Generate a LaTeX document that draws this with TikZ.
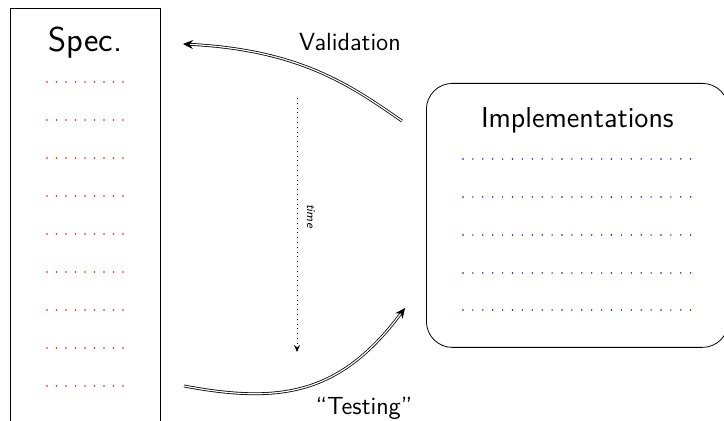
\documentclass[tikz,border=0pt]{standalone}
\usepackage{tikz}
\usetikzlibrary{positioning}
\usetikzlibrary{arrows.meta}

\tikzset{
  box/.style={draw,anchor=north west,inner sep=0pt},
  spec dots/.style={red,line width=0.8pt,line cap=round,dash pattern=on 0pt off 4.75pt},
  impl dots/.style={blue,line width=0.8pt,line cap=round,dash pattern=on 0pt off 4.95pt},
  flow/.style={double,-{Stealth[length=5pt,width=4.5pt,inset=1.6pt]}},
}

\begin{document}
\begin{tikzpicture}[x=0.5pt,y=-0.5pt,font=\sffamily]
\clip (0,0) rectangle (724,421);
\useasboundingbox (0,0) rectangle (724,421);

% the two boxes
\node[box,minimum width=75pt,minimum height=220pt] (spec) at (10,8) {};
\node[box,rounded corners=13pt,minimum width=151pt,minimum height=132pt] (impl) at (426,83) {};

\node[below=22pt of spec.north,anchor=base] (spec title) {\LARGE Spec.};
\node[below=22.5pt of impl.north,anchor=base] (impl title) {\Large Implementations};

% rows of dots
\foreach \y in {82,120,158,196,234,272,310,348,386}
  \draw[spec dots] (47,\y) -- (124,\y);
\foreach \y in {159,197,235,273,310}
  \draw[impl dots] (463,\y) -- (693,\y);

% arrows
\coordinate (val from) at (402,121);
\coordinate (val to) at (183,44);
\coordinate (test from) at (184,386);
\coordinate (test to) at (405,308);

\draw[flow] (val from) .. controls (350,85) and (300,50) .. (val to);
\node[anchor=base] (val label) at (350,51) {\fontsize{12.4}{14}\selectfont Validation};

\draw[flow] (test from) .. controls (280,404) and (340,395) .. (test to);
\node[anchor=base] (test label) at (364,415) {\fontsize{12.4}{14}\selectfont ``Testing''};

% time
\coordinate (t top) at (297,98);
\coordinate (t bot) at (297,352);
\draw[dotted,-{Stealth[length=3.5pt,width=3pt,inset=1.2pt]}] (t top) -- (t bot);
\node[rotate=-90,anchor=south,font=\sffamily\itshape\fontsize{6}{7}\selectfont] (time) at (300,216) {time};
\end{tikzpicture}
\end{document}
